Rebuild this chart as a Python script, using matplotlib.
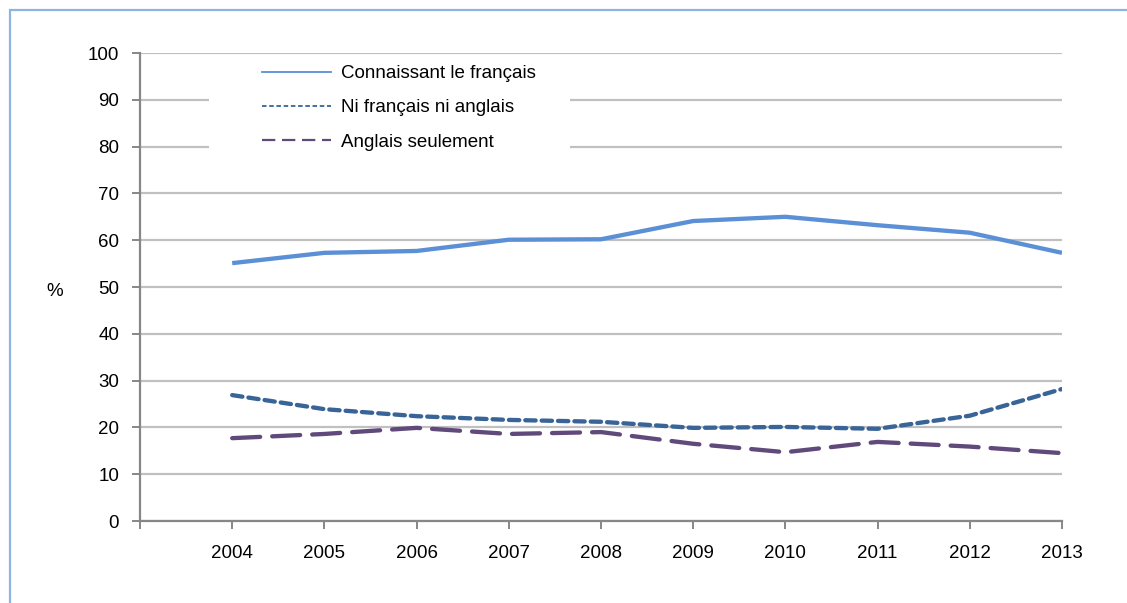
import matplotlib.pyplot as plt
from matplotlib.lines import Line2D
from matplotlib.patches import Rectangle

plt.rcParams["font.family"] = ["Liberation Sans", "DejaVu Sans"]

annees = ["2004", "2005", "2006", "2007", "2008", "2009", "2010", "2011", "2012", "2013"]
connaissant_fr = [55.1, 57.3, 57.7, 60.1, 60.2, 64.1, 65.0, 63.2, 61.6, 57.3]
ni_fr_ni_en = [26.9, 23.9, 22.4, 21.6, 21.2, 19.9, 20.1, 19.7, 22.5, 28.2]
anglais_seul = [17.7, 18.6, 19.9, 18.6, 19.0, 16.5, 14.7, 16.9, 15.9, 14.5]

noms = ["Connaissant le français", "Ni français ni anglais", "Anglais seulement"]

BLEU = "#5B8FD6"
BLEU_FONCE = "#386497"
VIOLET = "#604A7B"
GRIS_AXE = "#878787"
GRIS_GRILLE = "#C0C0C0"
TAILLE = 13.5

fig = plt.figure(figsize=(11.27, 6.03), dpi=100)
W, H = 1127, 603
ax = fig.add_axes([140 / W, 1 - 521 / H, 922 / W, 468 / H])

x = list(range(len(annees)))
ax.plot(x, connaissant_fr, color=BLEU, lw=3.1, solid_capstyle="butt", zorder=3)
ax.plot(x, ni_fr_ni_en, color=BLEU_FONCE, lw=3.1, dashes=(2.4, 1.4),
        dash_capstyle="round", zorder=3)
ax.plot(x, anglais_seul, color=VIOLET, lw=3.1, dashes=(6.5, 2.8),
        dash_capstyle="round", zorder=3)

ax.set_xlim(-1, len(annees) - 1)
ax.set_ylim(0, 100)
ax.set_yticks(range(0, 101, 10))
ax.set_xticks(range(-1, len(annees)))
ax.set_xticklabels([""] + annees)

ax.grid(axis="y", color=GRIS_GRILLE, lw=1.6, zorder=0)
ax.set_axisbelow(True)
for s in ["top", "right"]:
    ax.spines[s].set_visible(False)
for s in ["left", "bottom"]:
    ax.spines[s].set_color(GRIS_AXE)
    ax.spines[s].set_linewidth(1.6)
ax.tick_params(axis="y", length=6, width=1.4, color=GRIS_AXE, pad=9, labelsize=TAILLE)
ax.tick_params(axis="x", length=6, width=1.4, color=GRIS_AXE, pad=11, labelsize=TAILLE)

ax.set_ylabel("%", rotation=0, fontsize=TAILLE, va="center", ha="center")
ax.yaxis.set_label_coords(-85 / 922, (521 - 292) / 468)

# fond blanc de la légende qui coupe la grille
ax.add_patch(Rectangle((69 / 922, (521 - 160) / 468), 361 / 922, 102 / 468,
                       transform=ax.transAxes, facecolor="white",
                       edgecolor="none", zorder=1))

poignees = [
    Line2D([], [], color=BLEU, lw=1.3),
    Line2D([], [], color=BLEU_FONCE, lw=1.3, dashes=(2.5, 1.5)),
    Line2D([], [], color=VIOLET, lw=1.6, dashes=(6, 3)),
]
ax.legend(poignees, noms, loc="upper left", bbox_to_anchor=(122 / 922, (521 - 65) / 468),
          frameon=False, fontsize=TAILLE, handlelength=3.7, handletextpad=0.5,
          labelspacing=0.92, borderaxespad=0, borderpad=0)

# cadre bleu clair autour du graphique
fig.add_artist(Rectangle((10 / W, -0.1), 1.2, 1 - 10 / H + 0.1, transform=fig.transFigure,
                         facecolor="none", edgecolor="#8DB4E2", lw=1.6))

fig.savefig("out.png", dpi=100)
